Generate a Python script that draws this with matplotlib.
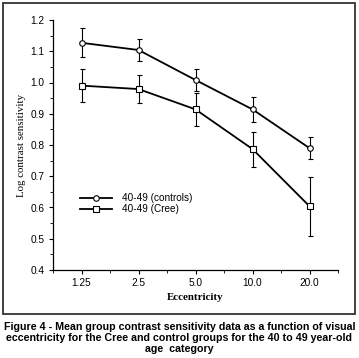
import matplotlib
matplotlib.use("Agg")
import matplotlib.pyplot as plt
from matplotlib.patches import Rectangle
from matplotlib.lines import Line2D
from matplotlib.ticker import MultipleLocator, FixedLocator

categories = ["1.25", "2.5", "5.0", "10.0", "20.0"]
controls = [1.127, 1.104, 1.008, 0.914, 0.790]
controls_err = [0.046, 0.036, 0.035, 0.041, 0.036]
cree = [0.990, 0.979, 0.914, 0.787, 0.604]
cree_err = [0.053, 0.044, 0.052, 0.056, 0.094]
legend_labels = ["40-49 (controls)", "40-49 (Cree)"]
caption = ("Figure 4 - Mean group contrast sensitivity data as a function of visual\n"
           "eccentricity for the Cree and control groups for the 40 to 49 year-old\n"
           "age  category")

W, H = 359, 358
fig = plt.figure(figsize=(W / 100, H / 100), dpi=100)
ax = fig.add_axes([53 / W, 1 - 270 / H, (338 - 53) / W, (270 - 20) / H])

x = list(range(len(categories)))
mstyle = dict(markerfacecolor="white", markeredgecolor="black", markeredgewidth=0.8)
common = dict(color="black", lw=1.3, elinewidth=0.8, capsize=1.8, capthick=0.8, **mstyle)
ax.errorbar(x, controls, yerr=controls_err, marker="o", ms=4.0, **common)
ax.errorbar(x, cree, yerr=cree_err, marker="s", ms=4.6, **common)

ax.set_xlim(-0.5, 4.5)
ax.set_ylim(0.4, 1.2)
ax.set_xticks(x)
ax.set_xticklabels(categories)
ax.xaxis.set_minor_locator(FixedLocator([-0.5 + i for i in range(6)]))
ax.yaxis.set_major_locator(MultipleLocator(0.1))
ax.yaxis.set_minor_locator(MultipleLocator(0.05))
ax.yaxis.set_major_formatter(matplotlib.ticker.FormatStrFormatter("%.1f"))
for s in ["top", "right"]:
    ax.spines[s].set_visible(False)
for s in ["left", "bottom"]:
    ax.spines[s].set_linewidth(0.9)
ax.tick_params(which="major", length=3, width=0.8, labelsize=7.3, pad=3)
ax.tick_params(which="minor", length=2, width=0.6)
for lbl in ax.get_xticklabels() + ax.get_yticklabels():
    lbl.set_fontfamily("Liberation Sans")

ax.set_ylabel("Log contrast sensitivity", family="Liberation Serif", fontsize=7.8, labelpad=3)
ax.set_xlabel("Eccentricity", family="Liberation Serif", fontsize=7.8, fontweight="bold", labelpad=3)

handles = [Line2D([], [], color="black", lw=1.3, marker="o", ms=4.0, **mstyle),
           Line2D([], [], color="black", lw=1.3, marker="s", ms=4.6, **mstyle)]
ax.legend(handles, legend_labels, loc="upper left",
          bbox_to_anchor=((80 - 53) / (338 - 53), (270 - 193) / 250),
          frameon=False, handlelength=3.2, handletextpad=1.0,
          labelspacing=0.1, borderaxespad=0, borderpad=0,
          prop={"family": "Liberation Sans", "size": 7.2})

fig.patches.append(Rectangle((3 / W, 1 - 314 / H), (355 - 3) / W, (314 - 3) / H,
                             transform=fig.transFigure, fill=False, lw=1.3,
                             edgecolor="#333333"))

fig.text(0.5, 1 - 322 / H, caption, ha="center", va="top", family="Liberation Sans",
         fontweight="bold", fontsize=7.7, linespacing=1.1)

fig.savefig("out.png", dpi=100)
